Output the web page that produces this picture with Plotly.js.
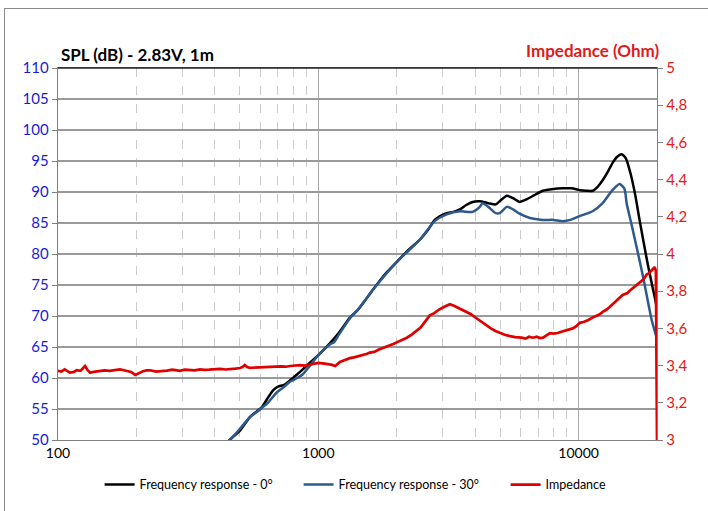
<!DOCTYPE html>
<html>
<head>
<meta charset="utf-8">
<script src="https://cdn.plot.ly/plotly-3.0.1.min.js"></script>
<style>
html,body{margin:0;padding:0;background:#fff;}
#wrap{position:relative;width:708px;height:511px;overflow:hidden;}
#frame{position:absolute;left:4px;top:8px;width:800px;height:600px;border-left:1px solid #8a8a8a;border-top:1px solid #8a8a8a;pointer-events:none;}
#chart{position:absolute;left:0;top:0;width:708px;height:511px;}
</style>
</head>
<body>
<div id="wrap"><div id="chart"></div><div id="frame"></div></div>
<script>
// Frequency response 0°
const f0 = [440,470,500,546,580,607,640,670,700,740,778,830,872,930,1000,1107,1200,1321,1419,1500,1618,1800,2000,2200,2454,2650,2800,3000,3112,3300,3500,3700,3917,4170,4500,4800,5000,5296,5600,5930,6300,6700,7280,8000,8690,9400,10080,10700,11320,11800,12370,13000,13500,14000,14620,15200,15800,16500,17140,18400,20000];
const spl0 = [49.4,50.5,51.5,53.7,54.6,55.3,56.8,58.0,58.6,58.9,59.6,60.6,61.4,62.5,63.7,65.6,67.3,69.7,71.0,72.3,74.2,76.7,78.7,80.5,82.3,84.0,85.5,86.3,86.6,86.8,87.2,87.9,88.4,88.5,88.2,88.0,88.6,89.4,89.0,88.4,88.8,89.4,90.2,90.5,90.6,90.6,90.3,90.2,90.2,90.8,91.9,93.4,94.7,95.6,96.1,95.4,93.1,89.5,85.5,78.5,71.3];

// Frequency response 30°
const f30 = [440,457,500,546,580,607,640,693,740,778,830,872,930,1000,1107,1150,1200,1321,1419,1618,2000,2454,2800,3112,3493,3700,3917,4170,4277,4500,4800,4977,5300,5600,5930,6500,7280,8000,8690,9300,10080,11320,12370,13490,14360,15000,15290,16120,17610,19070,20000];
const spl30 = [49.5,50.0,51.8,53.7,54.5,55.2,56.0,57.7,58.6,59.4,60.0,60.6,62.0,63.7,65.4,65.8,67.0,69.6,71.0,74.2,78.7,82.3,85.3,86.4,86.9,86.8,86.8,87.6,88.2,87.6,86.6,86.6,87.6,87.2,86.5,85.8,85.5,85.5,85.3,85.5,86.1,86.9,88.2,90.3,91.3,90.5,88.2,84.0,76.7,69.4,66.3];

// Impedance (Ohm)
const fImp = [100,103,106,109,111,115,118,122,127,130,133,139,145,151,158,165,173,179,185,191,198,205,212,219,226,238,250,262,275,285,294,307,320,335,351,365,380,400,420,440,460,480,500,511,522,533,545,570,596,623,650,685,720,750,780,815,849,885,920,960,1000,1040,1080,1120,1162,1185,1210,1237,1264,1292,1321,1370,1418,1460,1500,1540,1576,1640,1700,1790,1879,1940,2000,2090,2188,2290,2390,2470,2550,2610,2680,2790,2900,3050,3200,3320,3450,3580,3715,3860,4000,4140,4285,4440,4600,4790,4980,5200,5400,5700,6040,6250,6450,6680,6900,7100,7300,7520,7750,8000,8300,8650,9000,9250,9500,9800,10100,10500,10900,11300,11730,12050,12400,12780,13160,13500,13900,14300,14760,15050,15400,15750,16120,16500,16900,17250,17620,17930,18240,18570,18900,19250,19580,19800,20000];
const imp = [3.372,3.368,3.38,3.37,3.362,3.366,3.375,3.372,3.398,3.375,3.362,3.368,3.37,3.374,3.372,3.376,3.38,3.375,3.372,3.366,3.35,3.362,3.37,3.374,3.375,3.368,3.37,3.373,3.378,3.374,3.372,3.378,3.376,3.374,3.38,3.377,3.378,3.382,3.382,3.379,3.38,3.384,3.387,3.392,3.403,3.392,3.388,3.39,3.39,3.393,3.392,3.395,3.396,3.394,3.398,3.401,3.403,3.4,3.405,3.41,3.415,3.412,3.41,3.405,3.398,3.41,3.42,3.425,3.43,3.436,3.44,3.444,3.45,3.452,3.458,3.464,3.47,3.474,3.485,3.496,3.51,3.516,3.525,3.538,3.55,3.568,3.59,3.604,3.63,3.652,3.67,3.682,3.70,3.716,3.73,3.722,3.71,3.70,3.69,3.676,3.66,3.645,3.63,3.614,3.60,3.586,3.575,3.566,3.56,3.553,3.55,3.545,3.555,3.55,3.555,3.548,3.55,3.562,3.575,3.572,3.575,3.583,3.59,3.594,3.60,3.612,3.63,3.636,3.645,3.658,3.67,3.676,3.69,3.70,3.715,3.728,3.745,3.762,3.78,3.784,3.79,3.804,3.815,3.826,3.84,3.85,3.86,3.872,3.89,3.896,3.905,3.918,3.93,3.91,3.0];

const xTicks = [100,1000,10000];
const xTickText = ['100','1000','10000'];
const xMinor = [200,300,400,500,600,700,800,900,2000,3000,4000,5000,6000,7000,8000,9000];
const yTicks = [50,55,60,65,70,75,80,85,90,95,100,105,110];
const y2Ticks = [3,3.2,3.4,3.6,3.8,4,4.2,4.4,4.6,4.8,5];
const y2TickText = ['3','3,2','3,4','3,6','3,8','4','4,2','4,4','4,6','4,8','5'];

const FONT = 'Lato, "Open Sans", sans-serif';

const traces = [
  {x: f0, y: spl0, name: 'Frequency response - 0°', type: 'scatter', mode: 'lines', legendwidth: 154,
   line: {color: '#000000', width: 2.5, shape: 'spline', smoothing: 0.6}},
  {x: f30, y: spl30, name: 'Frequency response - 30°', type: 'scatter', mode: 'lines', legendwidth: 162,
   line: {color: '#2C5A8E', width: 2.5, shape: 'spline', smoothing: 0.6}},
  {x: fImp, y: imp, name: 'Impedance', type: 'scatter', mode: 'lines', yaxis: 'y2', legendwidth: 72,
   line: {color: '#E00000', width: 2.7}}
];

const layout = {
  width: 708, height: 511,
  margin: {l: 58, r: 51, t: 68, b: 71, pad: 0, autoexpand: false},
  paper_bgcolor: 'rgba(0,0,0,0)', plot_bgcolor: '#ffffff',
  font: {family: FONT, size: 13, color: '#000'},
  showlegend: true,
  legend: {orientation: 'h', xref: 'container', yref: 'container', x: 0.1407, xanchor: 'left', y: 0.051, yanchor: 'middle',
           font: {family: FONT, size: 12.5, color: '#000'}, itemwidth: 30, tracegroupgap: 0,
           bgcolor: 'rgba(0,0,0,0)'},
  xaxis: {type: 'log', range: [2, Math.log10(20000)], tickmode: 'array', tickvals: xTicks, ticktext: xTickText,
          showgrid: true, gridcolor: '#a8a8a8', gridwidth: 1,
          showline: true, linecolor: '#7f7f7f', linewidth: 1.3, mirror: true,
          ticks: '', tickfont: {family: FONT, size: 14, color: '#000'},
          zeroline: false, automargin: false,
          minor: {tickmode: 'array', tickvals: xMinor, showgrid: true, gridcolor: '#cccccc', griddash: 'dash', gridwidth: 1, ticks: ''}},
  yaxis: {range: [50, 110], tickmode: 'array', tickvals: yTicks,
          showgrid: true, gridcolor: '#9a9a9a', gridwidth: 1.2,
          showline: true, linecolor: '#7f7f7f', linewidth: 1.3,
          ticks: 'outside', ticklen: 5, tickcolor: '#7f7f7f', automargin: false,
          tickfont: {family: FONT, size: 15, color: '#1a1ad8'}, zeroline: false},
  yaxis2: {range: [3, 5], overlaying: 'y', side: 'right', tickmode: 'array', tickvals: y2Ticks, ticktext: y2TickText,
           showgrid: false, showline: true, linecolor: '#7f7f7f', linewidth: 1.3,
           ticks: 'outside', ticklen: 5, tickcolor: '#7f7f7f', automargin: false,
           tickfont: {family: FONT, size: 15, color: '#e01a1a'}, zeroline: false},
  shapes: [
    {type: 'line', xref: 'paper', yref: 'paper', x0: 0, x1: 1, y0: 1, y1: 1, line: {color: '#222', width: 1.3}}
  ],
  annotations: [
    {text: '<b>SPL (dB) - 2.83V, 1m</b>', xref: 'paper', yref: 'paper', x: 0.002, y: 1, xanchor: 'left', yanchor: 'bottom',
     yshift: 1, showarrow: false, font: {family: FONT, size: 17, color: '#000'}},
    {text: '<b>Impedance (Ohm)</b>', xref: 'paper', yref: 'paper', x: 1.007, y: 1, xanchor: 'right', yanchor: 'bottom',
     yshift: 5, showarrow: false, font: {family: FONT, size: 17, color: '#e01a1a'}}
  ]
};

Plotly.newPlot('chart', traces, layout, {displayModeBar: false, staticPlot: true});
</script>
</body>
</html>
